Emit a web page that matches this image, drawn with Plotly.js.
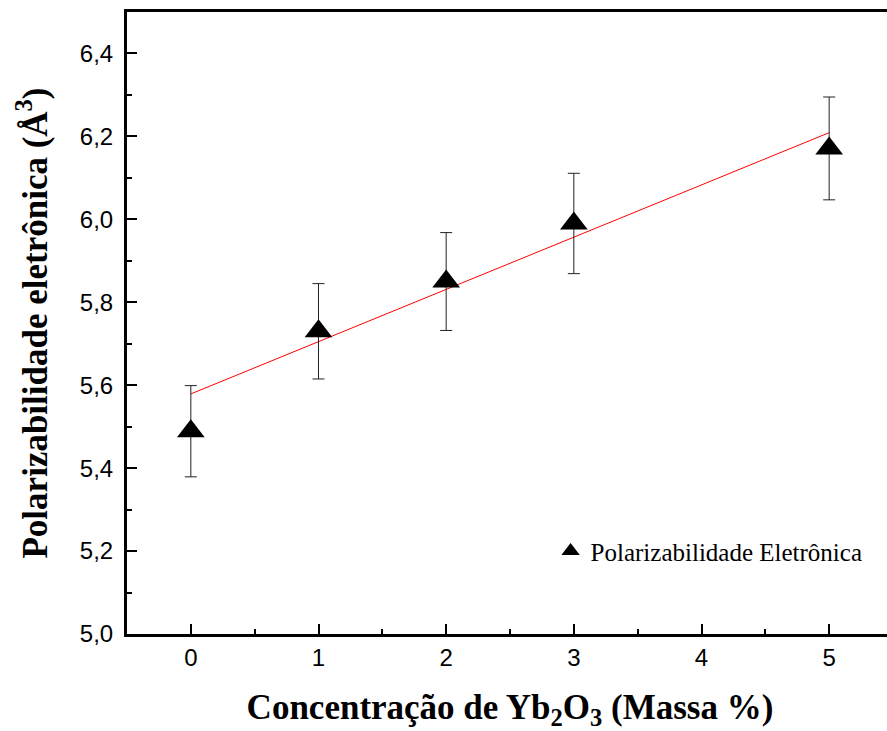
<!DOCTYPE html>
<html>
<head>
<meta charset="utf-8">
<script src="https://cdn.plot.ly/plotly-3.0.1.min.js"></script>
<style>
  html, body { margin: 0; padding: 0; overflow: hidden; background: #fff; }
  #chart { width: 900px; height: 731px; }
</style>
</head>
<body>
<div id="chart"></div>
<script>
// Data
const concentration = [0, 1, 2, 3, 5];
const polarizability = [5.489, 5.730, 5.850, 5.990, 6.171];
const errorValues = [0.110, 0.115, 0.118, 0.121, 0.124];
const fitX = [0, 5];
const fitY = [5.579, 6.209];
const xTickVals = [0, 1, 2, 3, 4, 5];
const yTickVals = [5.0, 5.2, 5.4, 5.6, 5.8, 6.0, 6.2, 6.4];
const yTickText = ['5,0', '5,2', '5,4', '5,6', '5,8', '6,0', '6,2', '6,4'];

const traces = [
  {
    x: fitX, y: fitY, type: 'scatter', mode: 'lines',
    line: { color: '#ff0000', width: 1 },
    showlegend: false, hoverinfo: 'skip'
  },
  {
    x: concentration, y: polarizability, type: 'scatter', mode: 'markers',
    name: 'Polarizabilidade Eletrônica',
    marker: { symbol: 'triangle-up', size: 24, color: '#000000' },
    error_y: { type: 'data', array: errorValues, visible: true, color: '#222222', thickness: 1, width: 6 }
  }
];

const axisCommon = {
  showline: true, linecolor: '#000', linewidth: 3, mirror: true,
  ticks: 'inside', tickcolor: '#000', tickwidth: 2, ticklen: 10,
  showgrid: false, zeroline: false,
  tickfont: { family: 'Liberation Sans, Arial, sans-serif', size: 24, color: '#000' }
};

const layout = {
  width: 900, height: 731,
  margin: { l: 127, r: 7, t: 12, b: 97 },
  paper_bgcolor: '#fff', plot_bgcolor: '#fff',
  showlegend: true,
  legend: {
    x: 0.553, y: 0.133, xanchor: 'left', yanchor: 'middle',
    bgcolor: 'rgba(0,0,0,0)',
    font: { family: 'Liberation Serif, Times New Roman, serif', size: 25, color: '#000' }
  },
  xaxis: Object.assign({}, axisCommon, {
    range: [-0.5, 5.5],
    tickvals: xTickVals,
    minor: { dtick: 0.5, ticks: 'inside', ticklen: 5, tickwidth: 2, tickcolor: '#000' },
    title: {
      text: 'Concentração de Yb<sub>2</sub>O<sub>3</sub> (Massa %)',
      font: { family: 'Liberation Serif, Times New Roman, serif', size: 35, color: '#000', weight: 'bold' },
      standoff: 28
    }
  }),
  yaxis: Object.assign({}, axisCommon, {
    range: [5.0, 6.5],
    tickvals: yTickVals,
    ticktext: yTickText,
    ticklabelstandoff: 6,
    minor: { dtick: 0.1, ticks: 'inside', ticklen: 5, tickwidth: 2, tickcolor: '#000' },
    title: {
      text: 'Polarizabilidade eletrônica (Å<sup>3</sup>)',
      font: { family: 'Liberation Serif, Times New Roman, serif', size: 35, color: '#000', weight: 'bold' },
      standoff: 22
    }
  })
};

Plotly.newPlot('chart', traces, layout, { displayModeBar: false, staticPlot: true });
</script>
</body>
</html>
